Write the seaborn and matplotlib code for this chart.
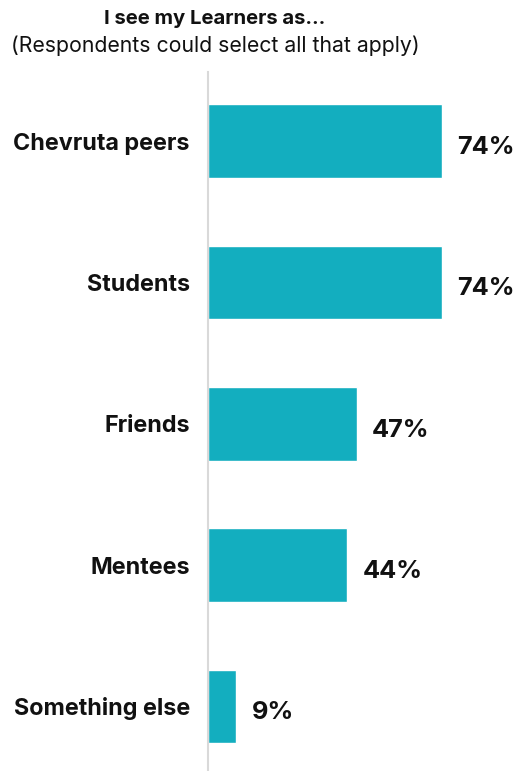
import matplotlib
matplotlib.use("Agg")
import matplotlib.pyplot as plt
import seaborn as sns
import pandas as pd

categories = ["Chevruta peers", "Students", "Friends", "Mentees", "Something else"]
values = [74, 74, 47, 44, 9]
value_labels = ["74%", "74%", "47%", "44%", "9%"]

sns.set_theme(style="white")
plt.rcParams['font.family'] = ['Inter', 'DejaVu Sans']

df = pd.DataFrame({"category": categories, "value": values})

W, H = 517, 771
fig = plt.figure(figsize=(W / 100, H / 100), dpi=100)
left = 208 / W
xmax = 97
width = 3.16 * xmax / W
top = 72 / H
ax = fig.add_axes([left, 0, width, 1 - top])

sns.barplot(data=df, x="value", y="category", orient="h", color="#13AEBF",
            width=0.52, saturation=1, ax=ax)
ax.set_xlim(0, xmax)
ax.set_ylim(4.457, -0.49)

texts = ax.bar_label(ax.containers[0], labels=value_labels, padding=11,
                     fontsize=18.3, fontweight="bold", color="#111111")
for t in texts:
    t.xyann = (11, -4.5)

ax.set_xlabel("")
ax.set_ylabel("")
ax.set_xticks([])
ax.tick_params(axis="y", length=0, pad=13)
for lab in ax.get_yticklabels():
    lab.set_fontsize(16.8)
    lab.set_fontweight("bold")
    lab.set_color("#111111")

for s in ["top", "right", "bottom"]:
    ax.spines[s].set_visible(False)
ax.spines["left"].set_color("#d9d9d9")
ax.spines["left"].set_linewidth(1.5)

fig.text(215 / W, 1 - 19 / H, "I see my Learners as...", ha="center", va="center",
         fontsize=14.6, fontweight="bold", color="#111111")
fig.text(215 / W, 1 - 46 / H, "(Respondents could select all that apply)", ha="center",
         va="center", fontsize=15.3, color="#111111")

fig.savefig("out.png", dpi=100)
